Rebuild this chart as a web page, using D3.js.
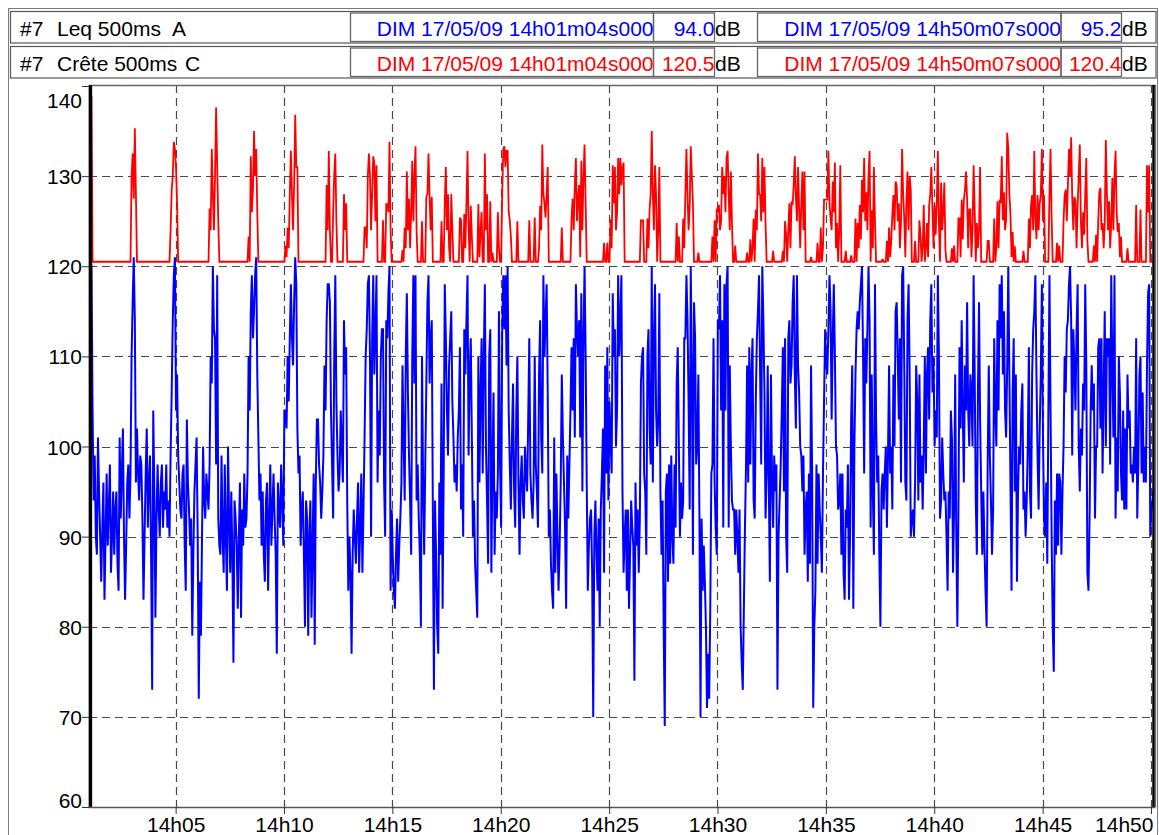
<!DOCTYPE html>
<html><head><meta charset="utf-8">
<script src="https://cdn.jsdelivr.net/npm/d3@7"></script>
<style>
body{margin:0;background:#fff;overflow:hidden}
text{font-family:"Liberation Sans",Arial,sans-serif}
</style>
</head><body>
<svg id="chart" width="1159" height="835"></svg>
<script>
// ---- DATA ----
const startTime = "14h01m04s";
const endTime = "14h50m07s";
const stepSeconds = 3;
// Leq 500ms A (dB), one value per 3 s, 20 values per minute
const leqA = [
94.0,120.2,104,94,99,90,88,101,95,90,85,91,96,83,90,97,89,93,98,86,
90,95,88,93,95,87,84,101,92,97,102,90,83,89,96,98,92,97,110,116,
121,114,96,102,97,94,99,98,92,83,90,97,102,91,96,99,88,73,104,95,
81,92,98,93,90,96,98,91,95,93,98,91,94,90,99,106,114,119,121,104,
108,99,96,93,92,97,98,89,84,103,96,93,89,92,79,88,95,98,101,90,
72,85,79,90,100,94,92,97,95,93,98,110,107,120,113,112,98,119,92,89,
88,99,90,86,98,90,84,100,92,86,95,88,76,94,92,89,82,90,96,81,
93,89,97,91,92,97,110,104,115,119,112,115,119,121,108,101,94,97,89,95,
88,85,94,96,84,92,98,89,93,97,92,88,77,96,93,91,98,94,89,104,
104,102,110,105,112,118,112,109,116,121,118,102,97,99,89,93,95,88,80,94,
92,79,90,94,81,89,97,78,96,103,103,98,96,92,95,99,109,104,114,118,
118,116,104,98,92,110,119,105,99,95,97,104,100,96,114,108,111,94,84,90,
86,77,88,93,90,87,92,96,86,91,97,86,93,101,110,113,118,119,110,90,
112,119,108,113,119,96,104,99,110,113,113,96,90,114,112,117,120,84,93,88,
84,82,88,92,85,89,92,96,109,101,94,110,117,106,99,94,88,110,119,107,
119,94,98,92,88,80,110,96,88,98,107,116,119,107,112,114,93,73,94,88,
80,77,96,88,107,82,97,118,112,104,99,109,112,115,105,101,96,98,95,101,
104,111,93,98,90,113,108,114,119,99,108,112,101,90,94,87,84,81,110,96,
106,112,97,110,118,100,94,87,110,113,86,98,106,88,95,92,97,115,98,91,
113,119,113,119,109,120,104,98,93,101,107,95,91,104,110,96,88,96,99,94,
92,100,97,95,103,112,97,94,92,96,110,98,95,91,108,114,101,97,119,110,
114,118,106,90,93,87,84,82,101,86,97,90,84,89,96,108,101,96,91,82,
99,92,98,104,111,104,112,101,118,113,110,114,101,117,95,112,120,110,96,84,
89,92,93,86,70,90,94,88,84,92,80,93,97,102,86,109,97,111,94,105,
101,97,117,110,113,100,104,119,110,114,119,95,86,90,93,84,93,82,88,94,
91,89,74,96,89,93,86,92,107,110,111,97,95,88,110,113,102,98,120,96,
112,118,104,100,103,117,95,88,94,80,69,95,97,85,98,87,99,90,87,98,
91,107,111,100,90,96,92,94,112,112,119,114,105,93,120,108,88,116,112,98,
100,108,92,70,92,84,89,85,80,71,77,72,82,97,98,112,96,91,88,114,
113,119,104,114,91,118,104,118,120,91,109,100,94,93,93,88,93,90,86,93,
80,76,73,82,91,98,109,96,111,98,108,112,94,92,105,112,115,119,108,98,
120,114,106,92,97,109,96,85,108,96,91,99,95,98,73,90,94,98,104,111,
95,112,90,86,112,114,107,109,116,119,108,102,119,109,106,100,99,95,99,88,
93,95,85,97,87,109,97,71,80,84,98,87,97,93,90,86,97,105,113,109,
108,113,119,115,103,112,118,110,100,99,93,94,97,88,97,86,83,93,91,98,
83,90,103,109,82,100,108,113,115,113,116,118,120,110,97,112,107,113,120,114,
91,108,95,88,118,103,96,99,88,80,95,97,93,97,100,91,99,109,97,100,
93,108,100,115,116,110,103,112,96,119,120,109,96,94,114,118,108,90,92,93,
90,96,109,105,94,108,96,99,93,100,110,97,108,111,103,114,118,106,110,100,
104,101,119,110,92,94,101,97,94,95,90,84,95,92,104,101,86,93,108,90,
80,93,111,102,114,104,96,109,104,116,104,100,108,106,100,119,108,94,88,106,
116,103,95,88,95,89,84,80,98,109,99,94,88,93,112,104,100,114,104,118,
112,119,108,115,104,101,109,120,108,96,84,106,112,95,108,85,95,100,98,104,
107,93,95,90,94,100,111,95,92,108,113,115,119,108,99,93,102,108,118,101,
92,90,96,87,104,119,104,90,80,75,94,88,97,89,97,96,88,95,100,110,
106,113,114,118,120,114,99,113,109,104,113,118,100,95,102,99,107,104,118,109,
86,84,92,104,109,104,107,92,100,100,111,112,102,112,97,106,115,100,112,110,
112,98,119,109,101,119,92,101,95,110,106,97,94,104,93,102,93,108,102,104,
97,98,96,100,97,112,92,98,108,110,97,106,96,100,96,109,117,118,90,93,
94,95.2
];
// Crete 500ms C (dB), same time base
const creteC = [
120.5,138.9,120.5,120.5,120.5,120.5,120.5,120.5,120.5,120.5,
120.5,120.5,120.5,120.5,120.5,120.5,120.5,120.5,120.5,120.5,
120.5,120.5,120.5,120.5,120.5,120.5,120.5,120.5,120.5,120.5,
120.5,120.5,120.5,120.5,120.5,120.5,120.5,120.5,130,132.5,
127.5,135.3,128,120.5,120.5,120.5,120.5,120.5,120.5,120.5,
120.5,120.5,120.5,120.5,120.5,120.5,120.5,120.5,120.5,120.5,
120.5,120.5,120.5,120.5,120.5,120.5,120.5,120.5,120.5,120.5,
120.5,120.5,120.5,120.5,124,128.4,130,133.8,133,131,
127,120.5,120.5,120.5,120.5,120.5,120.5,120.5,120.5,120.5,
120.5,120.5,120.5,120.5,120.5,120.5,120.5,120.5,120.5,120.5,
120.5,120.5,120.5,120.5,120.5,120.5,120.5,120.5,120.5,120.5,
126.4,124,133,128,124,130,137.6,131.2,125,120.5,
120.5,120.5,120.5,120.5,120.5,120.5,120.5,120.5,120.5,120.5,
120.5,120.5,120.5,120.5,120.5,120.5,120.5,120.5,120.5,120.5,
120.5,120.5,120.5,120.5,120.5,120.5,123.3,120.5,132.2,126,
128.4,135,130,133,126,120.5,120.5,120.5,120.5,120.5,
120.5,120.5,120.5,120.5,120.5,120.5,120.5,120.5,120.5,120.5,
120.5,120.5,120.5,120.5,120.5,120.5,120.5,120.5,120.5,120.5,
122.3,121,124.3,122,128,132.8,127.9,124,129,136.8,
131,131,120.5,120.5,120.5,120.5,120.5,120.5,120.5,120.5,
120.5,120.5,120.5,120.5,120.5,120.5,120.5,120.5,120.5,120.5,
120.5,120.5,120.5,120.5,120.5,120.5,120.5,120.5,129,124,
132.8,124,120.5,120.5,126,130.2,132.5,125,120.5,120.5,
120.5,120.5,120.5,120.5,128,124,127,120.5,120.5,120.5,
120.5,120.5,120.5,120.5,120.5,120.5,120.5,120.5,120.5,120.5,
120.5,120.5,120.5,124.3,124.3,122,130,132.5,130,124,
128,132.2,131.5,125,131.2,120.5,120.5,120.5,120.5,120.5,
125.1,120.5,120.5,126.9,126.9,126,133.8,124,120.5,120.5,
120.5,120.5,120.5,120.5,120.5,120.5,120.5,120.5,121.8,120.5,
124.3,122,130.5,124,127.5,122,126,131.7,125,130,
133.3,124,120.5,120.5,120.5,120.5,125,120.5,120.5,120.5,
127.7,128,132.5,127.7,124,127.7,120.5,120.5,120.5,120.5,
120.5,120.5,120.5,120.5,125,120.5,120.5,127,131,124,
128,122,120.5,128,124,120.5,120.5,120.5,120.5,120.5,
120.5,125.4,125.1,120.5,120.5,125.8,122,127,132.8,124.3,
120.5,126.7,123.3,120.5,120.5,120.5,120.5,120.5,126.9,121,
124,126,120.5,120.5,132.5,124,128,120.5,120.5,127.2,
120.5,121.5,120.5,120.5,120.5,120.5,126,122,120.5,120.5,
128,133,133.3,131,132.8,132.8,126,125.1,123.3,120.5,
120.5,120.5,120.5,120.5,125,120.5,120.5,120.5,120.5,120.5,
120.5,120.5,120.5,120.5,120.5,125.1,120.5,120.5,120.5,120.5,
125.4,120.5,120.5,120.5,122,126.7,124,133.5,128,127,
125.4,128,131,120.5,120.5,120.5,120.5,120.5,120.5,120.5,
120.5,120.5,120.5,120.5,120.5,124.3,120.5,120.5,120.5,120.5,
120.5,120.5,120.5,120.5,125.4,127.5,124,129,132,125,
127.5,129,121,131.7,124,130,133.5,127,120.5,120.5,
120.5,120.5,120.5,120.5,120.5,120.5,120.5,120.5,120.5,120.5,
120.5,120.5,120.5,120.5,122.6,120.5,120.5,122.6,120.5,120.5,
125.2,122,131.2,127,131,124,126,132,128,132,
129,131,131.5,120.5,120.5,120.5,120.5,120.5,120.5,120.5,
120.5,120.5,120.5,120.5,120.5,120.5,120.5,120.5,125.1,125.1,
125.1,120.5,120.5,120.5,125.3,122,126.3,128,135,127.9,
124,131.2,127.9,120.5,124,131,120.5,120.5,120.5,120.5,
120.5,120.5,120.5,120.5,120.5,120.5,120.5,120.5,120.5,120.5,
120.5,124.8,120.5,123.3,120.5,120.5,120.5,125.3,122,127.9,
133,127.9,124,126.4,133.3,130,127,120.5,120.5,120.5,
120.5,121.5,120.5,120.5,120.5,120.5,120.5,120.5,120.5,120.5,
120.5,120.5,120.5,120.5,123.3,120.5,125.1,120.5,126.4,126,
126.8,124,125,131,128,130,126,132,132.8,127.9,
124,130.5,125,120.5,120.5,122.3,120.5,120.5,120.5,120.5,
120.5,120.5,120.5,120.5,120.5,120.5,121.5,120.5,120.5,123,
120.5,122,125.3,120.5,126.3,124,132.5,128,127.9,125,
132,126,131,124.8,120.5,120.5,120.5,120.5,120.5,120.5,
121.7,120.5,120.5,120.5,120.5,120.5,120.5,120.5,120.5,121.7,
120.5,125,123.5,120.5,124,127,122,127.2,126.8,129,
132.2,127.7,125,131,126.3,122,127,130.5,124,130.5,
120.5,120.5,120.5,120.5,120.5,121,120.5,120.5,120.5,120.5,
120.5,122.6,120.5,120.5,124.3,120.5,122,127.4,127.4,127.4,
127.4,132.8,127,125.3,124,129.4,126,131.5,122,124.8,
120.5,124,131.2,120.5,120.5,120.5,120.5,121.7,120.5,120.5,
120.5,120.5,121.2,120.5,120.5,120.5,125.3,120.5,124.8,122,
126.8,123,129.6,126,132,125,128.2,124,130,132.8,
120.5,126.2,122,131,125,120.5,120.5,120.5,120.5,120.5,
120.5,120.8,120.5,120.5,120.5,122.8,120.5,124.3,121,122.8,
125.8,127.9,124,129.4,129,125,127,122,124.8,133,
128,125.3,121,127.2,130.5,124,130,128.5,120.5,120.5,
120.5,122.8,120.5,120.5,120.5,125.1,123.5,120.5,122,126.8,
120.5,122,124.8,121,126.8,128,131,126.5,122,126.8,
123.5,127,132.8,124.8,120.5,129.3,124,126,129.3,121.8,
120.5,120.5,120.5,120.5,120.5,122,120.5,122.3,120.5,120.5,
120.5,125.3,125.3,121,127.4,123,127.4,128.4,130.5,127.4,
122,126.3,126.3,121,124,131.2,126.3,120.5,124.8,122,
124,131,120.5,120.5,120.5,120.5,120.5,120.5,122.8,122.8,
120.5,120.5,120.5,120.5,125.3,120.5,122,127.2,122,127.4,
127,132.2,125.1,128.2,124,125.1,134.8,133,128,125.8,
121,123.8,120.5,122.2,120.5,120.5,120.5,120.5,120.5,120.5,
120.5,121.7,120.5,120.5,120.5,120.5,125.3,122,126.8,127.9,
124,132.8,125.3,123,127.9,124,127,127.9,133,125,
127.9,120.5,120.5,120.5,120.5,128,133,125.3,120.5,120.5,
120.5,120.5,122.6,120.5,122.3,120.5,120.5,120.5,125,127.9,
128.5,125,129,133,130,134.3,127.7,124,127.7,127.2,
122,126.8,130,133.5,125,122,126,123.5,128,132,
122.8,120.5,120.5,120.5,120.5,120.5,122.3,120.5,123.5,120.5,
125,128.2,128.7,124,124.8,122,124.8,134,128.2,124,
127.2,122,124.8,129.8,124,130,132.8,126,123.8,124.8,
121,123.3,120.5,120.5,120.5,120.5,120.5,122,120.5,120.5,
120.5,120.5,120.5,120.5,120.5,126.8,120.5,120.5,120.5,126.3,
120.5,120.5,120.5,120.5,120.5,131.2,126,131.2,120.5,120.5,
120.5,120.4
];
const yTicks = [60,70,80,90,100,110,120,130,140];
const xTickLabels = ["14h05","14h10","14h15","14h20","14h25","14h30","14h35","14h40","14h45","14h50"];
const seriesIds = ["#7","#7"];
const seriesNames = ["Leq 500ms","Crête 500ms"];
const weightings = ["A","C"];
const cursorStamps = ["DIM 17/05/09 14h01m04s000","DIM 17/05/09 14h50m07s000"];
const cursorValuesA = ["94.0","95.2"];
const cursorValuesC = ["120.5","120.4"];
const unit = "dB";

// ---- DRAW ----
const BLUE = "#0000ff", RED = "#ff0000";
const svg = d3.select("#chart");
const parseHMS = d3.timeParse("%Hh%Mm%Ss");
const parseHM = d3.timeParse("%Hh%M");
const t0 = parseHMS(startTime), t1 = parseHMS(endTime);
const timeAt = i => new Date(t0.getTime() + i * stepSeconds * 1000);

const P = {left: 89, right: 1155.5, top: 85, bottom: 807};
const x = d3.scaleTime().domain([t0, t1]).range([90.4, 1153.5]);
const y = d3.scaleLinear().domain([60, 140]).range([807, 86]);

// outer frame
svg.append("rect").attr("x", 8.5).attr("y", 8.5).attr("width", 1149).attr("height", 840)
  .attr("fill", "#fff").attr("stroke", "#7a7a7a").attr("stroke-width", 1);

// header rows
const rowTops = [11.5, 46.5];
const rowColors = [BLUE, RED];
const rowValues = [cursorValuesA, cursorValuesC];
const boxes = [{d0: 350.5, d1: 653.5, v1: 714.5}, {d0: 757.5, d1: 1061, v1: 1121.5}];
rowTops.forEach((top, r) => {
  const g = svg.append("g");
  g.append("rect").attr("x", 10.5).attr("y", top).attr("width", 1145.5).attr("height", 31.5)
    .attr("fill", "#fff").attr("stroke", "#555").attr("stroke-width", 1.2);
  const base = top + 24.3;
  g.append("text").attr("x", 20).attr("y", base).attr("font-size", 21).text(seriesIds[r]);
  g.append("text").attr("x", 57).attr("y", base).attr("font-size", 21).text(seriesNames[r]);
  g.append("text").attr("x", r === 0 ? 172 : 185).attr("y", base).attr("font-size", 21).text(weightings[r]);
  boxes.forEach((b, k) => {
    g.append("rect").attr("x", b.d0).attr("y", top + 1.5).attr("width", b.d1 - b.d0).attr("height", 28.5)
      .attr("fill", "none").attr("stroke", "#666").attr("stroke-width", 1.3);
    g.append("rect").attr("x", b.d1).attr("y", top + 1.5).attr("width", b.v1 - b.d1).attr("height", 28.5)
      .attr("fill", "none").attr("stroke", "#666").attr("stroke-width", 1.3);
    g.append("text").attr("x", b.d1).attr("y", base).attr("text-anchor", "end")
      .attr("font-size", 21).attr("fill", rowColors[r]).text(cursorStamps[k]);
    g.append("text").attr("x", b.v1).attr("y", base).attr("text-anchor", "end")
      .attr("font-size", 21).attr("fill", rowColors[r]).text(rowValues[r][k]);
    g.append("text").attr("x", b.v1 + 0.5).attr("y", base)
      .attr("font-size", 21).attr("fill", "#000").text(unit);
  });
});

// plot area
svg.append("defs").append("clipPath").attr("id", "clip")
  .append("rect").attr("x", P.left).attr("y", P.top).attr("width", P.right - P.left).attr("height", P.bottom - P.top);

const xTickDates = xTickLabels.map(s => parseHM(s));
const grid = svg.append("g").attr("stroke", "#4a4a4a").attr("stroke-width", 1.2).attr("stroke-dasharray", "8,5");
grid.selectAll("line.h").data(yTicks.slice(1, -1)).join("line")
  .attr("x1", P.left).attr("x2", P.right).attr("y1", d => Math.round(y(d)) + 0.5).attr("y2", d => Math.round(y(d)) + 0.5);
grid.selectAll("line.v").data(xTickDates).join("line")
  .attr("x1", d => Math.round(x(d)) + 0.5).attr("x2", d => Math.round(x(d)) + 0.5).attr("y1", P.top).attr("y2", P.bottom);

// frame of plot
svg.append("path")
  .attr("d", `M${P.left},${P.top + 0.5}H${P.right}V${P.bottom}`)
  .attr("fill", "none").attr("stroke", "#666").attr("stroke-width", 1.3);

const line = d3.line().x((d, i) => x(timeAt(i))).y(d => y(d));
const dataG = svg.append("g").attr("clip-path", "url(#clip)");
dataG.append("path").datum(creteC).attr("d", line)
  .attr("fill", "none").attr("stroke", RED).attr("stroke-width", 1.8).attr("stroke-linejoin", "miter").attr("stroke-miterlimit", 2);
dataG.append("path").datum(leqA).attr("d", line)
  .attr("fill", "none").attr("stroke", BLUE).attr("stroke-width", 2).attr("stroke-linejoin", "miter").attr("stroke-miterlimit", 2);

// cursors
[t0, t1].forEach((t, k) => {
  svg.append("line").attr("x1", x(t)).attr("x2", x(t)).attr("y1", P.top).attr("y2", P.bottom)
    .attr("stroke", "#000").attr("stroke-width", k === 0 ? 3.5 : 2.5);
});

// x axis
const xAxis = d3.axisBottom(x).tickValues(xTickDates).tickFormat(d3.timeFormat("%Hh%M")).tickSize(7).tickPadding(3);
const gx = svg.append("g").attr("transform", `translate(0,${P.bottom})`).call(xAxis);
gx.select(".domain").attr("stroke", "#555").attr("stroke-width", 1.3).attr("d", `M${P.left},0.5H${P.right}`);
gx.selectAll(".tick line").attr("stroke", "#333");
gx.selectAll("text").attr("font-size", 21).attr("fill", "#000").attr("font-family", '"Liberation Sans",Arial,sans-serif');
gx.selectAll(".tick").filter((d, i, n) => i === n.length - 1).select("text")
  .attr("text-anchor", "end").attr("x", 2);

// y axis
const yAxis = d3.axisLeft(y).tickValues(yTicks).tickSize(7).tickPadding(0);
const gy = svg.append("g").attr("transform", `translate(${P.left},0)`).call(yAxis);
gy.select(".domain").remove();
gy.selectAll(".tick line").attr("stroke", "#333");
gy.selectAll("text").attr("font-size", 21).attr("fill", "#000").attr("font-family", '"Liberation Sans",Arial,sans-serif')
  .attr("dy", d => d === 140 ? "1.02em" : d === 60 ? "0em" : "0.36em");
</script>
</body></html>
